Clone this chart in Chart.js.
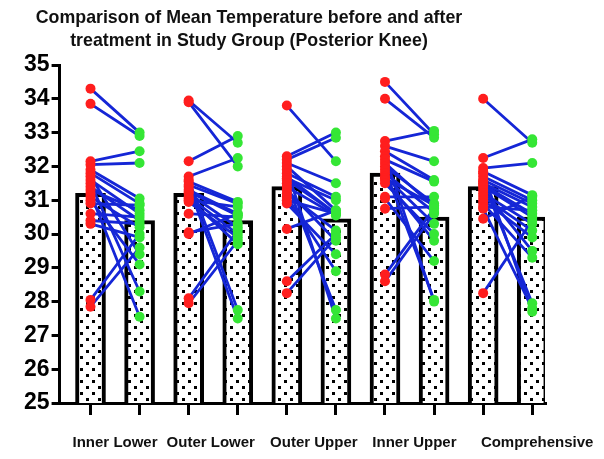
<!DOCTYPE html>
<html>
<head>
<meta charset="utf-8">
<script src="https://cdn.jsdelivr.net/npm/chart.js@4.4.1/dist/chart.umd.min.js"></script>
<style>
	html, body { margin: 0; padding: 0; background: #fff; }
</style>
</head>
<body>
<canvas id="myChart" width="604" height="459"></canvas>
<script>
// Datos
const titleLines = ['Comparison of Mean Temperature before and after', 'treatment in Study Group (Posterior Knee)'];
const groups = ['Inner Lower', 'Outer Lower', 'Outer Upper', 'Inner Upper', 'Comprehensive'];
const yTicks = [25, 26, 27, 28, 29, 30, 31, 32, 33, 34, 35];

const meanBefore = [31.2, 31.2, 31.4, 31.8, 31.4];
const meanAfter = [30.4, 30.4, 30.45, 30.5, 30.5];

const innerLowerBefore = [34.3, 33.85, 32.15, 32.05, 31.9, 31.8, 31.7, 31.6, 31.5, 31.4, 31.3, 31.2, 31.1, 31.0, 30.9, 30.6, 30.4, 30.3, 28.05, 27.85];
const innerLowerAfter = [33.0, 32.9, 32.45, 32.1, 31.05, 30.9, 29.4, 30.6, 28.3, 30.4, 30.7, 27.55, 30.2, 29.1, 30.85, 30.5, 30.3, 29.9, 30.0, 29.6];

const outerLowerBefore = [33.95, 33.9, 32.15, 31.7, 31.6, 31.55, 31.45, 31.4, 31.3, 31.25, 31.2, 31.1, 31.05, 31.0, 30.95, 30.6, 30.05, 30.0, 28.1, 27.95];
const outerLowerAfter = [32.7, 32.0, 32.9, 32.25, 27.75, 30.95, 30.9, 27.5, 30.6, 30.55, 30.2, 30.0, 29.7, 30.8, 29.9, 30.5, 30.3, 30.6, 30.1, 29.8];

const outerUpperBefore = [33.8, 32.3, 32.2, 32.1, 32.0, 31.9, 31.8, 31.7, 31.65, 31.6, 31.5, 31.4, 31.3, 31.2, 31.1, 31.0, 30.9, 30.15, 28.6, 28.25];
const outerUpperAfter = [32.15, 33.0, 32.85, 31.5, 30.7, 27.5, 31.1, 30.6, 31.0, 30.6, 27.75, 30.55, 29.8, 30.1, 28.9, 30.6, 29.4, 30.7, 30.0, 29.9];

const innerUpperBefore = [34.5, 34.0, 32.75, 32.6, 32.45, 32.3, 32.2, 32.1, 32.0, 31.9, 31.8, 31.7, 31.65, 31.6, 31.5, 31.1, 31.05, 30.75, 28.8, 28.6];
const innerUpperAfter = [32.95, 32.85, 33.05, 32.15, 31.6, 28.0, 31.55, 30.8, 30.9, 28.05, 30.65, 30.3, 30.85, 29.8, 30.0, 31.1, 29.2, 30.8, 30.75, 30.6];

const comprehensiveBefore = [34.0, 32.25, 31.95, 31.85, 31.8, 31.7, 31.6, 31.55, 31.5, 31.45, 31.4, 31.3, 31.2, 31.1, 31.0, 30.9, 30.8, 30.75, 30.45, 28.25];
const comprehensiveAfter = [32.7, 32.8, 32.1, 31.15, 27.7, 31.0, 30.9, 27.95, 30.8, 30.6, 30.5, 29.5, 30.3, 30.1, 29.9, 29.3, 30.7, 27.8, 31.1, 30.4];

const before = [innerLowerBefore, outerLowerBefore, outerUpperBefore, innerUpperBefore, comprehensiveBefore];
const after = [innerLowerAfter, outerLowerAfter, outerUpperAfter, innerUpperAfter, comprehensiveAfter];

const FONT = '"Liberation Sans", Arial, sans-serif';

// Patrón de puntos para las barras
function dotPattern(ctx) {
	const c = document.createElement('canvas');
	c.width = 12;
	c.height = 12;
	const g = c.getContext('2d');
	g.fillStyle = '#fff';
	g.fillRect(0, 0, 12, 12);
	g.fillStyle = '#000';
	g.fillRect(2, 2, 3, 3);
	g.fillRect(8, 8, 3, 3);
	return ctx.createPattern(c, 'repeat');
}

// Título dibujado a mano (centrado como en la imagen)
const titlePlugin = {
	id: 'titulo',
	afterDraw(chart) {
		const ctx = chart.ctx;
		ctx.save();
		ctx.font = 'bold 17.8px ' + FONT;
		ctx.fillStyle = '#111';
		ctx.textAlign = 'center';
		ctx.textBaseline = 'alphabetic';
		titleLines.forEach((t, i) => ctx.fillText(t, 249, 23 + i * 23));
		ctx.restore();
	}
};

const ctx = document.getElementById('myChart').getContext('2d');

const barData = meanBefore.flatMap((m, g) => [{ x: 2 * g, y: m }, { x: 2 * g + 1, y: meanAfter[g] }]);

const pairDatasets = before[0].map((_, s) => ({
	type: 'line',
	xAxisID: 'x',
	yAxisID: 'y',
	data: before.flatMap((arr, g) => [
		{ x: 2 * g, y: arr[s] },
		{ x: 2 * g + 1, y: after[g][s] },
		{ x: 2 * g + 1.5, y: null }
	]),
	borderColor: '#1526d6',
	borderWidth: 2.8,
	pointRadius: 0,
	fill: false,
	spanGaps: false,
	order: 2
}));

const redPoints = before.flatMap((arr, g) => arr.map(v => ({ x: 2 * g, y: v })));
const greenPoints = after.flatMap((arr, g) => arr.map(v => ({ x: 2 * g + 1, y: v })));

const xMin = -0.63;
const xMax = 9.26;
// dónde cae cada nombre de grupo (el último queda más a la derecha, como en la imagen)
const labelShift = [0.5, 0.45, 0.55, 0.6, 1.1];

const chart = new Chart(ctx, {
	type: 'bar',
	data: {
		datasets: [
			{
				type: 'bar',
				xAxisID: 'x',
				yAxisID: 'y',
				data: barData,
				backgroundColor: dotPattern(ctx),
				borderColor: '#000',
				borderWidth: 4,
				barThickness: 30,
				order: 3
			},
			...pairDatasets,
			{
				type: 'scatter',
				xAxisID: 'x',
				yAxisID: 'y',
				data: redPoints,
				backgroundColor: '#ff1e1e',
				borderWidth: 0,
				pointRadius: 5,
				order: 1
			},
			{
				type: 'scatter',
				xAxisID: 'x',
				yAxisID: 'y',
				data: greenPoints,
				backgroundColor: '#35e635',
				borderWidth: 0,
				pointRadius: 5,
				order: 1
			}
		]
	},
	options: {
		responsive: false,
		animation: false,
		layout: {
			padding: { left: 22, right: 59, top: 65, bottom: -12 }
		},
		plugins: {
			legend: { display: false },
			tooltip: { enabled: false },
			title: { display: false }
		},
		scales: {
			x: {
				type: 'linear',
				position: 'bottom',
				offset: false,
				min: xMin,
				max: xMax,
				afterBuildTicks: axis => {
					const marks = barData.map(d => ({ value: d.x }));
					const names = groups.map((name, g) => ({ value: 2 * g + labelShift[g], name: name }));
					axis.ticks = marks.concat(names).sort((a, b) => a.value - b.value);
				},
				// las etiquetas pueden salirse del área, no reservar espacio para ellas
				afterFit: axis => {
					axis.paddingLeft = 0;
					axis.paddingRight = 0;
				},
				ticks: {
					callback: function (v, i, ticks) {
						return ticks[i].name || '';
					},
					autoSkip: false,
					maxRotation: 0,
					minRotation: 0,
					padding: 19,
					color: '#111',
					font: { family: FONT, size: 15, weight: 'bold' }
				},
				grid: {
					offset: false,
					drawOnChartArea: false,
					color: '#000',
					tickColor: c => (c.tick && c.tick.name ? 'rgba(0,0,0,0)' : '#000'),
					lineWidth: 3,
					tickLength: 12
				},
				border: { color: '#000', width: 3 }
			},
			y: {
				type: 'linear',
				min: 25,
				max: 35,
				beginAtZero: false,
				afterBuildTicks: axis => {
					axis.ticks = yTicks.map(v => ({ value: v }));
				},
				ticks: {
					padding: 2,
					color: '#000',
					font: { family: FONT, size: 23, weight: 'bold' }
				},
				grid: { drawOnChartArea: false, color: '#000', lineWidth: 3, tickLength: 8 },
				border: { color: '#000', width: 3 }
			}
		}
	},
	plugins: [titlePlugin]
});
</script>
</body>
</html>
